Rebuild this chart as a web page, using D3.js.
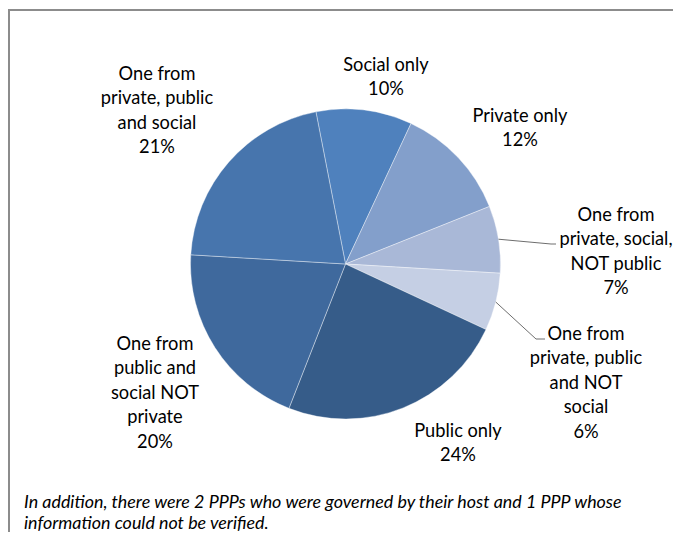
<!DOCTYPE html>
<html>
<head>
<meta charset="utf-8">
<script src="https://cdn.jsdelivr.net/npm/d3@7"></script>
<style>
  html, body { margin: 0; padding: 0; background: #fff; }
  svg { display: block; }
  text { font-family: Lato, "Open Sans", sans-serif; fill: #000; }
</style>
</head>
<body>
<svg id="chart" width="673" height="539"></svg>
<script>
// Governance composition of PPPs (share of PPPs, %)
const categories = [
  "Social only",
  "Private only",
  "One from private, social, NOT public",
  "One from private, public and NOT social",
  "Public only",
  "One from public and social NOT private",
  "One from private, public and social"
];
const values = [10, 12, 7, 6, 24, 20, 21];

// Label lines as they wrap on the chart
const labelLines = [
  ["Social only"],
  ["Private only"],
  ["One from", "private, social,", "NOT public"],
  ["One from", "private, public", "and NOT", "social"],
  ["Public only"],
  ["One from", "public and", "social NOT", "private"],
  ["One from", "private, public", "and social"]
];
const colors = ["#4f81bd", "#839fcb", "#a9b8d7", "#c5cfe4", "#365c89", "#3f699d", "#4775ad"];

const footnote = [
  "In addition, there were 2 PPPs who were governed by their host and 1 PPP whose",
  "information could not be verified."
];

// Layout
const cx = 345.5, cy = 264, radius = 155;
const lineH = 24.6;
// label block centres (x, y of first line) and leader-line elbow for outside labels
const labelLayout = [
  { x: 386, y: 64 },
  { x: 520, y: 115 },
  { x: 616, y: 214, leader: [[551, 244], [556, 244]] },
  { x: 586, y: 333, leader: [[536, 339], [545, 339]] },
  { x: 458, y: 430 },
  { x: 155, y: 343 },
  { x: 157, y: 73 }
];

const svg = d3.select("#chart");

// chart area frame
svg.append("path")
  .attr("d", "M9,532 V10 H680")
  .attr("fill", "none")
  .attr("stroke", "#8c8c8c")
  .attr("stroke-width", 2);

const startAngle = -11 * Math.PI / 180;
const pie = d3.pie().sort(null).value(d => d)
  .startAngle(startAngle).endAngle(startAngle + 2 * Math.PI);
const arcs = pie(values);
const arc = d3.arc().innerRadius(0).outerRadius(radius);

const g = svg.append("g").attr("transform", `translate(${cx},${cy})`);
g.selectAll("path.slice")
  .data(arcs)
  .join("path")
  .attr("class", "slice")
  .attr("d", arc)
  .attr("fill", (d, i) => colors[i])
  .attr("stroke", "rgba(255,255,255,0.55)")
  .attr("stroke-width", 0.7);

// leader lines from slice edge to label
arcs.forEach((d, i) => {
  const lay = labelLayout[i];
  if (!lay.leader) return;
  const mid = (d.startAngle + d.endAngle) / 2;
  const p0 = [cx + radius * Math.sin(mid), cy - radius * Math.cos(mid)];
  svg.append("polyline")
    .attr("points", [p0].concat(lay.leader).map(p => p.join(",")).join(" "))
    .attr("fill", "none")
    .attr("stroke", "#6e6e6e")
    .attr("stroke-width", 1);
});

// fit label font size to the width of a reference label
const probe = svg.append("text").attr("font-size", 20).text("Private only");
const labelSize = 20 * 95 / probe.node().getComputedTextLength();
probe.remove();

const fmt = d => d + "%";
arcs.forEach((d, i) => {
  const lay = labelLayout[i];
  const lines = labelLines[i].concat([fmt(values[i])]);
  const t = svg.append("text")
    .attr("text-anchor", "middle")
    .attr("font-size", labelSize.toFixed(2));
  lines.forEach((s, k) => {
    t.append("tspan")
      .attr("x", lay.x)
      .attr("y", lay.y + k * lineH)
      .attr("dy", "0.36em")
      .text(s);
  });
});

// footnote
const fn = svg.append("text")
  .attr("font-style", "italic")
  .attr("font-size", 16);
fn.append("tspan").attr("x", 24).attr("y", 502).attr("dy", "0.36em").text(footnote[0]);
const w = fn.node().getComputedTextLength ? fn.select("tspan").node().getComputedTextLength() : 599;
fn.attr("font-size", (16 * 598 / w).toFixed(2));
fn.append("tspan").attr("x", 24).attr("y", 523).attr("dy", "0.36em").text(footnote[1]);
</script>
</body>
</html>
